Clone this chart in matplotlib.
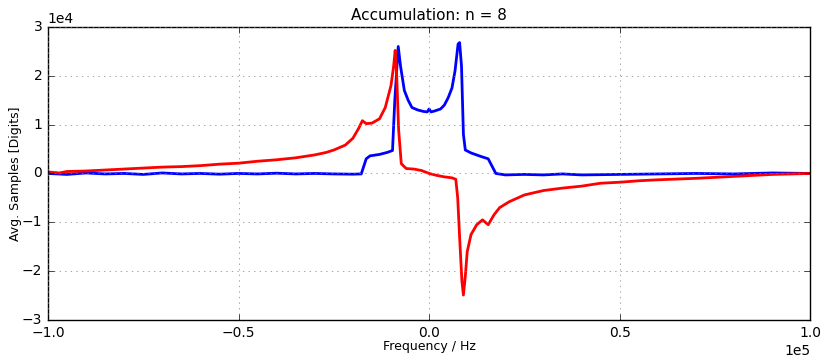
import matplotlib
matplotlib.use("Agg")
import matplotlib.pyplot as plt

# frequency points in kHz
blue_f = [-100, -95, -90, -85, -80, -75, -70, -65, -60, -55, -50, -45, -40,
          -35, -30, -25, -20, -17.8, -16.5, -15.5, -13, -11, -9.6, -9.0, -8.1,
          -7.5, -6.5, -5.5, -4.5, -3, -1.5, -0.5, 0, 0.5, 1.5, 3, 4, 5, 6, 6.8,
          7.6, 8.0, 8.5, 9.0, 9.5, 11, 13.5, 15.5, 16.5, 17.5, 20, 25, 30, 35,
          40, 50, 60, 70, 80, 90, 100]
blue_v = [0, -200, 100, -100, 0, -200, 100, -100, 0, -150, 0, -100, 50,
          -100, 0, -100, -150, -100, 3000, 3600, 3900, 4300, 4700, 15000, 26000,
          22000, 17000, 15000, 13500, 13000, 12700, 12600, 13200, 12600, 12800,
          13200, 14000, 15500, 17500, 21000, 26500, 26800, 22000, 8000, 4800,
          4200, 3500, 3000, 1500, 0, -300, -200, -300, -100, -300, -200, -100,
          0, -100, 100, 0]

red_f = [-100, -97, -95, -90, -85, -80, -75, -70, -65, -60, -55, -50, -45,
         -40, -35, -30, -27, -25, -22, -20, -18.5, -17.5, -16.5, -15, -13,
         -11.5, -10, -9.3, -8.9, -8.5, -8.0, -7.3, -6, -4, -2, 0, 2, 4, 6, 7.0,
         7.5, 8.0, 8.6, 9.0, 9.5, 10, 11, 12.5, 14, 15.5, 17, 18.5, 21, 25, 30,
         35, 40, 45, 50, 55, 60, 70, 80, 90, 100]
red_v = [300, 100, 400, 500, 700, 900, 1100, 1300, 1400, 1600, 1900, 2100,
         2500, 2800, 3200, 3800, 4300, 4800, 5800, 7200, 9200, 10800, 10200,
         10300, 11200, 13500, 18000, 22000, 25200, 20000, 9000, 2000, 1000, 900,
         600, 0, -400, -700, -900, -1200, -5000, -13000, -22000, -24900, -21000,
         -16000, -12500, -10500, -9500, -10500, -8500, -7000, -5800, -4400,
         -3500, -3000, -2600, -2000, -1800, -1500, -1300, -1000, -600, -200, 0]

plt.style.use("classic")
plt.rcParams["font.size"] = 10

fig = plt.figure(figsize=(8.26, 3.64), dpi=100, facecolor="white")
ax = fig.add_axes([0.058, 0.121, 0.923, 0.805])

ax.plot([f * 1000 for f in blue_f], blue_v, color="b", lw=2)
ax.plot([f * 1000 for f in red_f], red_v, color="r", lw=2)

ax.set_xlim(-1e5, 1e5)
ax.set_ylim(-3e4, 3e4)
ax.ticklabel_format(style="sci", scilimits=(0, 0))
ax.grid(True, color="gray", linestyle=":")

ax.set_title("Accumulation: n = 8", fontsize=11)
ax.set_xlabel("Frequency / Hz", fontsize=9, labelpad=0)
ax.set_ylabel("Avg. Samples [Digits]", fontsize=9, labelpad=0)

fig.savefig("out.png", dpi=100, facecolor="white")
